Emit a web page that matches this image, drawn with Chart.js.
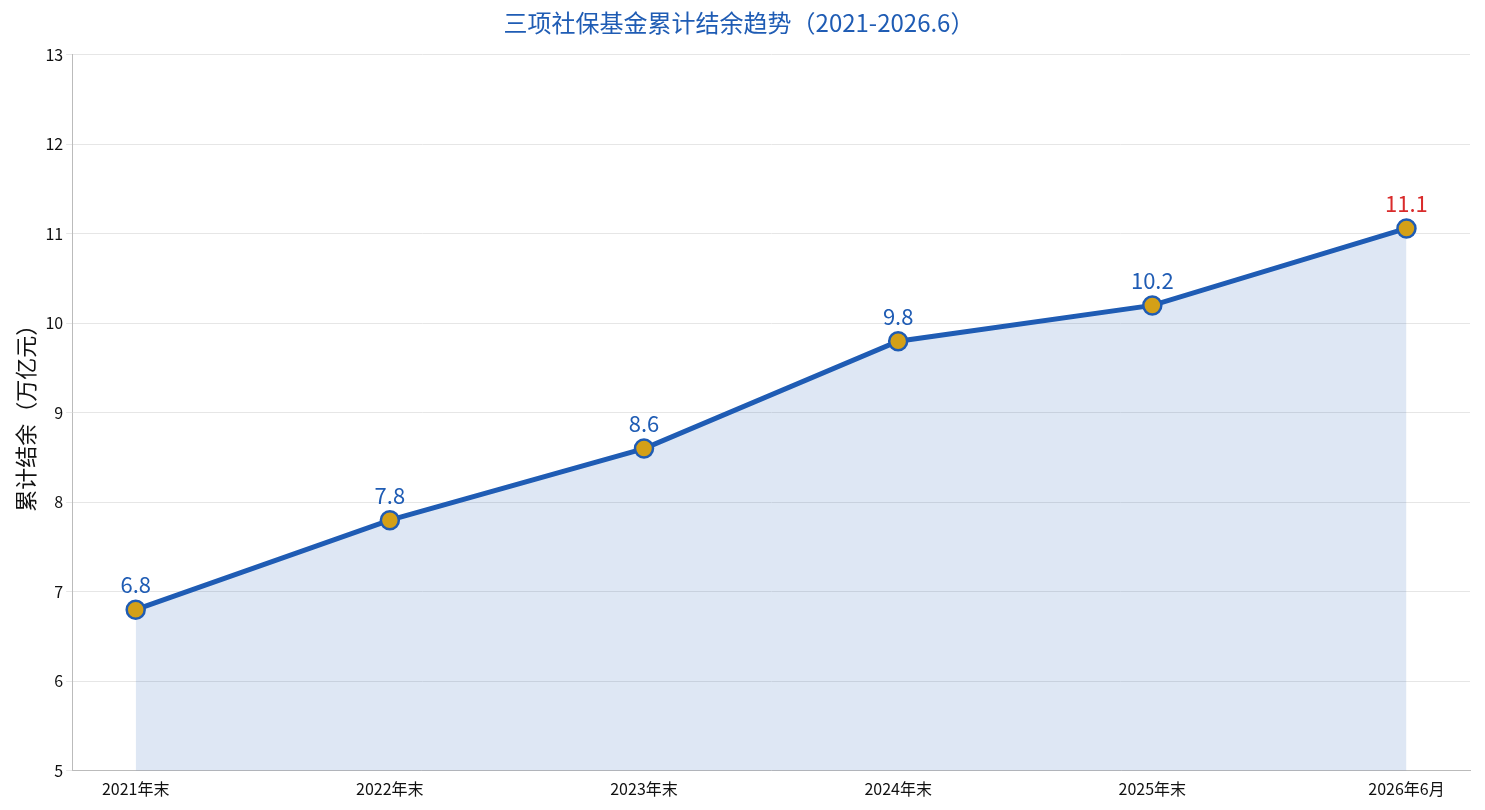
<!DOCTYPE html>
<html><head><meta charset="utf-8">
<script src="https://cdn.jsdelivr.net/npm/chart.js@4"></script>
<style>html,body{margin:0;background:#fff}#wrap{width:1485px;height:810px}</style>
</head><body><div id="wrap"><canvas id="c"></canvas></div>
<script>
const categories = ['2021年末', '2022年末', '2023年末', '2024年末', '2025年末', '2026年6月'];
const balances = [6.8, 7.8, 8.6, 9.8, 10.2, 11.06];
const pointLabels = ['6.8', '7.8', '8.6', '9.8', '10.2', '11.1'];
const blue = '#1f5cb4';
const font = '"Noto Sans CJK SC", "Noto Sans", sans-serif';

const labelPlugin = {
    id: 'valLabels',
    afterDatasetsDraw(chart) {
        const ctx = chart.ctx;
        const meta = chart.getDatasetMeta(0);
        ctx.save();
        ctx.font = '22px ' + font;
        ctx.textAlign = 'center';
        ctx.textBaseline = 'bottom';
        meta.data.forEach((p, i) => {
            ctx.fillStyle = i === meta.data.length - 1 ? '#d92b2b' : blue;
            ctx.fillText(pointLabels[i], p.x, p.y - 14);
        });
        ctx.restore();
    }
};

new Chart(document.getElementById('c'), {
    type: 'line',
    data: {
        datasets: [{
            data: balances.map((v, i) => ({ x: i, y: v })),
            borderColor: blue,
            borderWidth: 5,
            backgroundColor: 'rgba(31,92,180,0.15)',
            fill: 'start',
            pointRadius: 9,
            pointHoverRadius: 9,
            pointBackgroundColor: '#d4a017',
            pointBorderColor: blue,
            pointBorderWidth: 2.5,
            tension: 0
        }]
    },
    options: {
        responsive: true,
        maintainAspectRatio: false,
        animation: false,
        layout: { padding: { left: 8, right: 15, top: 0, bottom: 8 } },
        plugins: {
            legend: { display: false },
            tooltip: { enabled: false },
            title: {
                display: true,
                text: '三项社保基金累计结余趋势（2021-2026.6）',
                color: blue,
                font: { family: font, size: 24, weight: 'normal' },
                padding: { top: 8, bottom: 18 }
            }
        },
        scales: {
            x: {
                type: 'linear',
                min: -0.25, max: 5.25,
                afterBuildTicks: s => { s.ticks = categories.map((_, i) => ({ value: i })); },
                ticks: { callback: v => categories[v], color: '#111', font: { family: font, size: 16 } },
                grid: { display: false, drawTicks: true, tickLength: 6 },
                border: { color: '#bbb' }
            },
            y: {
                min: 5, max: 13,
                ticks: { stepSize: 1, color: '#111', font: { family: font, size: 16 } },
                grid: { color: '#e6e6e6', tickLength: 6 },
                border: { color: '#bbb' },
                title: { display: true, text: '累计结余（万亿元）', color: '#111', font: { family: font, size: 22 } }
            }
        }
    },
    plugins: [labelPlugin]
});
</script></body></html>
